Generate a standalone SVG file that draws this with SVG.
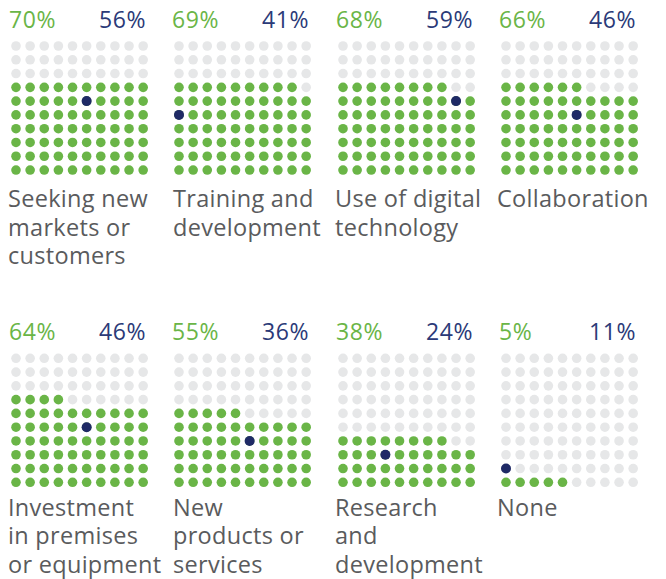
<svg xmlns="http://www.w3.org/2000/svg" xmlns:xlink="http://www.w3.org/1999/xlink" width="666" height="579" viewBox="0 0 666 579">
<style>
.pg{font-family:"Open Sans","Liberation Sans",sans-serif;font-size:23px;letter-spacing:0.6px;fill:#6ab547}
.pn{font-family:"Open Sans","Liberation Sans",sans-serif;font-size:23px;letter-spacing:0.6px;fill:#2b3a78;text-anchor:end}
.lb{font-family:"Open Sans","Liberation Sans",sans-serif;font-size:23.5px;letter-spacing:0.3px;fill:#5a5b5d}
.g{fill:#e6e7e8}.n{fill:#6ab547}.b{fill:#1f2a66}
</style>
<defs>
<g id="gr"><circle class="g" cx="0" cy="0" r="4.8"/><circle class="g" cx="14.13" cy="0" r="4.8"/><circle class="g" cx="28.26" cy="0" r="4.8"/><circle class="g" cx="42.39" cy="0" r="4.8"/><circle class="g" cx="56.52" cy="0" r="4.8"/><circle class="g" cx="70.65" cy="0" r="4.8"/><circle class="g" cx="84.78" cy="0" r="4.8"/><circle class="g" cx="98.91" cy="0" r="4.8"/><circle class="g" cx="113.04" cy="0" r="4.8"/><circle class="g" cx="127.17" cy="0" r="4.8"/></g>
<g id="gn"><circle class="n" cx="0" cy="0" r="4.8"/><circle class="n" cx="14.13" cy="0" r="4.8"/><circle class="n" cx="28.26" cy="0" r="4.8"/><circle class="n" cx="42.39" cy="0" r="4.8"/><circle class="n" cx="56.52" cy="0" r="4.8"/><circle class="n" cx="70.65" cy="0" r="4.8"/><circle class="n" cx="84.78" cy="0" r="4.8"/><circle class="n" cx="98.91" cy="0" r="4.8"/><circle class="n" cx="113.04" cy="0" r="4.8"/><circle class="n" cx="127.17" cy="0" r="4.8"/></g>
</defs>

<g id="panel1">
<text class="pg" x="9" y="28">70%</text><text class="pn" x="146" y="28">56%</text>
<g transform="translate(16,46)">
<use href="#gr" y="0"/><use href="#gr" y="13.78"/><use href="#gr" y="27.56"/>
<use href="#gn" y="41.34"/><use href="#gn" y="55.12"/><use href="#gn" y="68.9"/><use href="#gn" y="82.68"/><use href="#gn" y="96.46"/><use href="#gn" y="110.24"/><use href="#gn" y="124.02"/>
<circle class="b" cx="70.65" cy="55.12" r="5"/>
</g>
<text class="lb" x="8" y="207"><tspan x="8">Seeking new</tspan><tspan x="8" dy="28.5">markets or</tspan><tspan x="8" dy="28.5">customers</tspan></text>
</g>

<g id="panel2">
<text class="pg" x="172" y="28">69%</text><text class="pn" x="309" y="28">41%</text>
<g transform="translate(179,46)">
<use href="#gr" y="0"/><use href="#gr" y="13.78"/><use href="#gr" y="27.56"/>
<circle class="n" cx="0" cy="41.34" r="4.8"/><circle class="n" cx="14.13" cy="41.34" r="4.8"/><circle class="n" cx="28.26" cy="41.34" r="4.8"/><circle class="n" cx="42.39" cy="41.34" r="4.8"/><circle class="n" cx="56.52" cy="41.34" r="4.8"/><circle class="n" cx="70.65" cy="41.34" r="4.8"/><circle class="n" cx="84.78" cy="41.34" r="4.8"/><circle class="n" cx="98.91" cy="41.34" r="4.8"/><circle class="n" cx="113.04" cy="41.34" r="4.8"/><circle class="g" cx="127.17" cy="41.34" r="4.8"/>
<use href="#gn" y="55.12"/><use href="#gn" y="68.9"/><use href="#gn" y="82.68"/><use href="#gn" y="96.46"/><use href="#gn" y="110.24"/><use href="#gn" y="124.02"/>
<circle class="b" cx="0" cy="68.9" r="5"/>
</g>
<text class="lb" x="173" y="207"><tspan x="173">Training and</tspan><tspan x="173" dy="28.5">development</tspan></text>
</g>

<g id="panel3">
<text class="pg" x="336" y="28">68%</text><text class="pn" x="473" y="28">59%</text>
<g transform="translate(343,46)">
<use href="#gr" y="0"/><use href="#gr" y="13.78"/><use href="#gr" y="27.56"/>
<circle class="n" cx="0" cy="41.34" r="4.8"/><circle class="n" cx="14.13" cy="41.34" r="4.8"/><circle class="n" cx="28.26" cy="41.34" r="4.8"/><circle class="n" cx="42.39" cy="41.34" r="4.8"/><circle class="n" cx="56.52" cy="41.34" r="4.8"/><circle class="n" cx="70.65" cy="41.34" r="4.8"/><circle class="n" cx="84.78" cy="41.34" r="4.8"/><circle class="n" cx="98.91" cy="41.34" r="4.8"/><circle class="g" cx="113.04" cy="41.34" r="4.8"/><circle class="g" cx="127.17" cy="41.34" r="4.8"/>
<use href="#gn" y="55.12"/><use href="#gn" y="68.9"/><use href="#gn" y="82.68"/><use href="#gn" y="96.46"/><use href="#gn" y="110.24"/><use href="#gn" y="124.02"/>
<circle class="b" cx="113.04" cy="55.12" r="5"/>
</g>
<text class="lb" x="335" y="207"><tspan x="335">Use of digital</tspan><tspan x="335" dy="28.5">technology</tspan></text>
</g>

<g id="panel4">
<text class="pg" x="499" y="28">66%</text><text class="pn" x="636" y="28">46%</text>
<g transform="translate(506,46)">
<use href="#gr" y="0"/><use href="#gr" y="13.78"/><use href="#gr" y="27.56"/>
<circle class="n" cx="0" cy="41.34" r="4.8"/><circle class="n" cx="14.13" cy="41.34" r="4.8"/><circle class="n" cx="28.26" cy="41.34" r="4.8"/><circle class="n" cx="42.39" cy="41.34" r="4.8"/><circle class="n" cx="56.52" cy="41.34" r="4.8"/><circle class="n" cx="70.65" cy="41.34" r="4.8"/><circle class="g" cx="84.78" cy="41.34" r="4.8"/><circle class="g" cx="98.91" cy="41.34" r="4.8"/><circle class="g" cx="113.04" cy="41.34" r="4.8"/><circle class="g" cx="127.17" cy="41.34" r="4.8"/>
<use href="#gn" y="55.12"/><use href="#gn" y="68.9"/><use href="#gn" y="82.68"/><use href="#gn" y="96.46"/><use href="#gn" y="110.24"/><use href="#gn" y="124.02"/>
<circle class="b" cx="70.65" cy="68.9" r="5"/>
</g>
<text class="lb" x="497" y="207"><tspan x="497">Collaboration</tspan></text>
</g>

<g id="panel5">
<text class="pg" x="9" y="340">64%</text><text class="pn" x="146" y="340">46%</text>
<g transform="translate(16,358.3)">
<use href="#gr" y="0"/><use href="#gr" y="13.78"/><use href="#gr" y="27.56"/>
<circle class="n" cx="0" cy="41.34" r="4.8"/><circle class="n" cx="14.13" cy="41.34" r="4.8"/><circle class="n" cx="28.26" cy="41.34" r="4.8"/><circle class="n" cx="42.39" cy="41.34" r="4.8"/><circle class="g" cx="56.52" cy="41.34" r="4.8"/><circle class="g" cx="70.65" cy="41.34" r="4.8"/><circle class="g" cx="84.78" cy="41.34" r="4.8"/><circle class="g" cx="98.91" cy="41.34" r="4.8"/><circle class="g" cx="113.04" cy="41.34" r="4.8"/><circle class="g" cx="127.17" cy="41.34" r="4.8"/>
<use href="#gn" y="55.12"/><use href="#gn" y="68.9"/><use href="#gn" y="82.68"/><use href="#gn" y="96.46"/><use href="#gn" y="110.24"/><use href="#gn" y="124.02"/>
<circle class="b" cx="70.65" cy="68.9" r="5"/>
</g>
<text class="lb" x="8" y="515.5"><tspan x="8">Investment</tspan><tspan x="8" dy="28.5">in premises</tspan><tspan x="8" dy="28.5">or equipment</tspan></text>
</g>

<g id="panel6">
<text class="pg" x="172" y="340">55%</text><text class="pn" x="309" y="340">36%</text>
<g transform="translate(179,358.3)">
<use href="#gr" y="0"/><use href="#gr" y="13.78"/><use href="#gr" y="27.56"/><use href="#gr" y="41.34"/>
<circle class="n" cx="0" cy="55.12" r="4.8"/><circle class="n" cx="14.13" cy="55.12" r="4.8"/><circle class="n" cx="28.26" cy="55.12" r="4.8"/><circle class="n" cx="42.39" cy="55.12" r="4.8"/><circle class="n" cx="56.52" cy="55.12" r="4.8"/><circle class="g" cx="70.65" cy="55.12" r="4.8"/><circle class="g" cx="84.78" cy="55.12" r="4.8"/><circle class="g" cx="98.91" cy="55.12" r="4.8"/><circle class="g" cx="113.04" cy="55.12" r="4.8"/><circle class="g" cx="127.17" cy="55.12" r="4.8"/>
<use href="#gn" y="68.9"/><use href="#gn" y="82.68"/><use href="#gn" y="96.46"/><use href="#gn" y="110.24"/><use href="#gn" y="124.02"/>
<circle class="b" cx="70.65" cy="82.68" r="5"/>
</g>
<text class="lb" x="173" y="515.5"><tspan x="173">New</tspan><tspan x="173" dy="28.5">products or</tspan><tspan x="173" dy="28.5">services</tspan></text>
</g>

<g id="panel7">
<text class="pg" x="336" y="340">38%</text><text class="pn" x="473" y="340">24%</text>
<g transform="translate(343,358.3)">
<use href="#gr" y="0"/><use href="#gr" y="13.78"/><use href="#gr" y="27.56"/><use href="#gr" y="41.34"/><use href="#gr" y="55.12"/><use href="#gr" y="68.9"/>
<circle class="n" cx="0" cy="82.68" r="4.8"/><circle class="n" cx="14.13" cy="82.68" r="4.8"/><circle class="n" cx="28.26" cy="82.68" r="4.8"/><circle class="n" cx="42.39" cy="82.68" r="4.8"/><circle class="n" cx="56.52" cy="82.68" r="4.8"/><circle class="n" cx="70.65" cy="82.68" r="4.8"/><circle class="n" cx="84.78" cy="82.68" r="4.8"/><circle class="n" cx="98.91" cy="82.68" r="4.8"/><circle class="g" cx="113.04" cy="82.68" r="4.8"/><circle class="g" cx="127.17" cy="82.68" r="4.8"/>
<use href="#gn" y="96.46"/><use href="#gn" y="110.24"/><use href="#gn" y="124.02"/>
<circle class="b" cx="42.39" cy="96.46" r="5"/>
</g>
<text class="lb" x="335" y="515.5"><tspan x="335">Research</tspan><tspan x="335" dy="28.5">and</tspan><tspan x="335" dy="28.5">development</tspan></text>
</g>

<g id="panel8">
<text class="pg" x="499" y="340">5%</text><text class="pn" x="636" y="340">11%</text>
<g transform="translate(506,358.3)">
<use href="#gr" y="0"/><use href="#gr" y="13.78"/><use href="#gr" y="27.56"/><use href="#gr" y="41.34"/><use href="#gr" y="55.12"/><use href="#gr" y="68.9"/><use href="#gr" y="82.68"/><use href="#gr" y="96.46"/><use href="#gr" y="110.24"/>
<circle class="n" cx="0" cy="124.02" r="4.8"/><circle class="n" cx="14.13" cy="124.02" r="4.8"/><circle class="n" cx="28.26" cy="124.02" r="4.8"/><circle class="n" cx="42.39" cy="124.02" r="4.8"/><circle class="n" cx="56.52" cy="124.02" r="4.8"/><circle class="g" cx="70.65" cy="124.02" r="4.8"/><circle class="g" cx="84.78" cy="124.02" r="4.8"/><circle class="g" cx="98.91" cy="124.02" r="4.8"/><circle class="g" cx="113.04" cy="124.02" r="4.8"/><circle class="g" cx="127.17" cy="124.02" r="4.8"/>
<circle class="b" cx="0" cy="110.24" r="5"/>
</g>
<text class="lb" x="497" y="515.5"><tspan x="497">None</tspan></text>
</g>
</svg>
